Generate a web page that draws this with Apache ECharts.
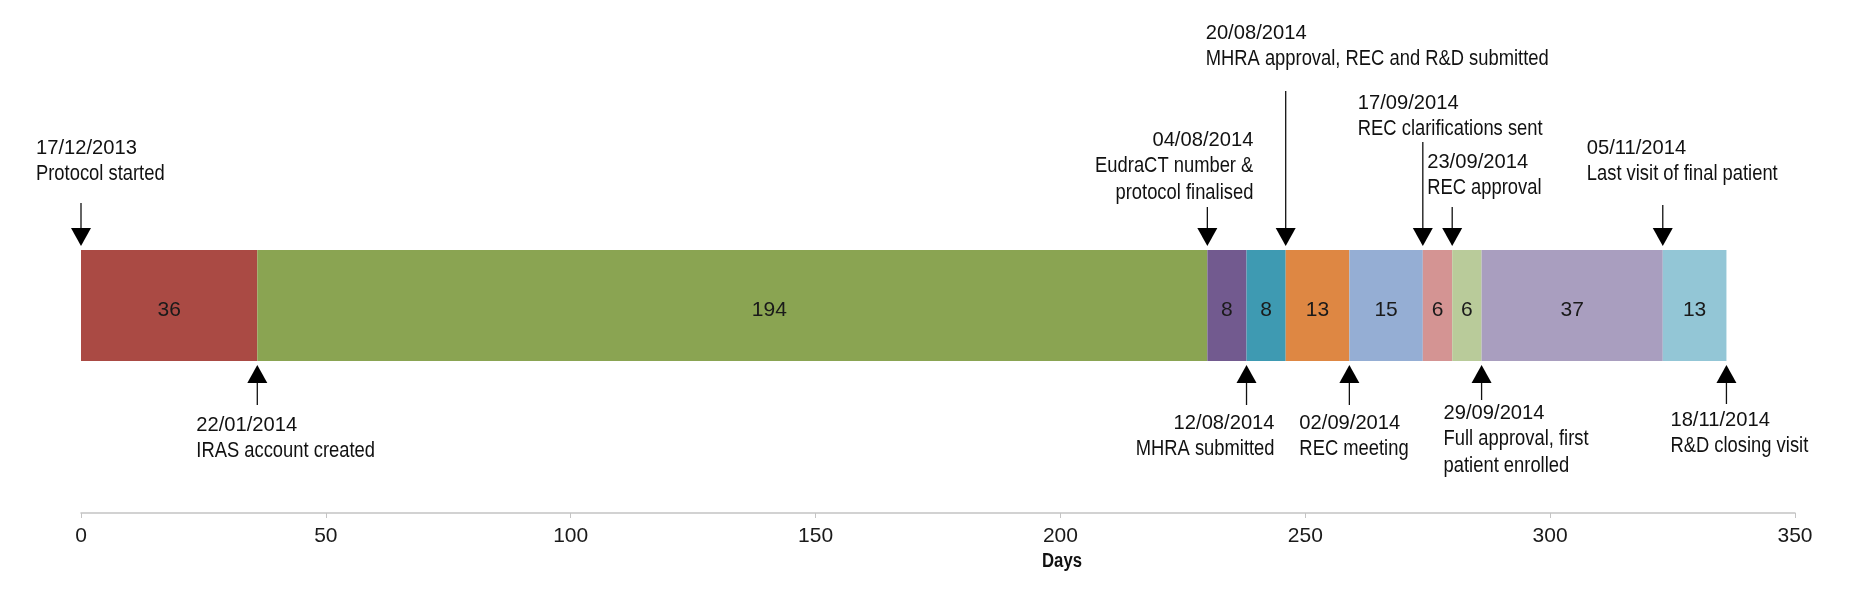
<!DOCTYPE html>
<html><head><meta charset="utf-8">
<script src="https://cdn.jsdelivr.net/npm/echarts@6/dist/echarts.min.js"></script>
<style>html,body{margin:0;padding:0;background:#fff}#chart{width:1858px;height:599px}</style>
</head><body><div id="chart"></div>
<script>
// ---------- data ----------
const category = ['Timeline'];
const durations = [36, 194, 8, 8, 13, 15, 6, 6, 37, 13];
const axisTicks = [0, 50, 100, 150, 200, 250, 300, 350];
const milestoneDates = ['17/12/2013','22/01/2014','04/08/2014','12/08/2014','20/08/2014','02/09/2014','17/09/2014','23/09/2014','29/09/2014','05/11/2014','18/11/2014'];
const milestoneTexts = ['Protocol started','IRAS account created','EudraCT number &\nprotocol finalised','MHRA submitted','MHRA approval, REC and R&D submitted','REC meeting','REC clarifications sent','REC approval','Full approval, first\npatient enrolled','Last visit of final patient','R&D closing visit'];
const milestoneSides = ['top','bottom','top','bottom','top','bottom','top','top','bottom','top','bottom'];
const axisName = 'Days';

// ---------- styles / layout ----------
const segmentColors = ['#AA4A44','#8AA452','#725A8F','#3E9AB2','#DE8743','#95AED4','#D49493','#B9CB9A','#A99EBF','#93C6D6'];
const segmentLabelOffsets = [[0,5],[37,5],[0,5],[0,5],[0,5],[0,5],[0,5],[0,5],[0,5],[0,5]];
const FONT = '"Liberation Sans","Arial",sans-serif';
const DATE_SCALE = 0.96;   // horizontal squeeze of date lines
const TEXT_SCALE = 0.835;  // horizontal squeeze of description lines
// dx: text anchor offset from arrow; y: centre of date line; lineEnd: far end of arrow shaft
const labelLayout = [
  {dx:-45, align:'left',  y:148, lineEnd:203},
  {dx:-61, align:'left',  y:425, lineEnd:405},
  {dx: 46, align:'right', y:140, lineEnd:207},
  {dx: 28, align:'right', y:423, lineEnd:405},
  {dx:-80, align:'left',  y:33,  lineEnd:91},
  {dx:-50, align:'left',  y:423, lineEnd:405},
  {dx:-65, align:'left',  y:103, lineEnd:142},
  {dx:-25, align:'left',  y:162, lineEnd:207},
  {dx:-38, align:'left',  y:413, lineEnd:400},
  {dx:-76, align:'left',  y:148, lineEnd:205},
  {dx:-56, align:'left',  y:420, lineEnd:404}
];

// milestone positions = boundaries of the stacked durations
const milestoneDays = [0];
durations.forEach(d => milestoneDays.push(milestoneDays[milestoneDays.length - 1] + d));

const chart = echarts.init(document.getElementById('chart'), null, {renderer: 'canvas'});

const barSeries = durations.map((v, i) => ({
  type: 'bar',
  stack: 'total',
  data: [v],
  barWidth: '100%',
  barCategoryGap: '0%',
  itemStyle: {color: segmentColors[i]},
  label: {show: true, position: 'inside', offset: segmentLabelOffsets[i], formatter: '{c}', fontSize: 21, fontFamily: FONT, color: '#1a1a1a'},
  silent: true
}));

const annotationSeries = {
  type: 'custom',
  clip: false,
  z: 10,
  silent: true,
  data: milestoneDays.map(d => [d, 0]),
  renderItem: function (params, api) {
    const i = params.dataIndex;
    const pt = api.coord([api.value(0), 0]);
    const x = pt[0], yc = pt[1];
    const half = api.size([0, 1])[1] / 2;
    const L = labelLayout[i];
    const top = milestoneSides[i] === 'top';
    const tipY = top ? yc - half - 4 : yc + half + 4;
    const headH = 18, headW = 20;
    const baseY = top ? tipY - headH : tipY + headH;
    return {
      type: 'group',
      children: [
        {type: 'line', shape: {x1: x, y1: L.lineEnd, x2: x, y2: baseY}, style: {stroke: '#111', lineWidth: 1.3}},
        {type: 'polygon', shape: {points: [[x - headW / 2, baseY], [x + headW / 2, baseY], [x, tipY]]}, style: {fill: '#000'}},
        {type: 'text', x: x + L.dx, y: L.y, scaleX: DATE_SCALE,
          style: {text: milestoneDates[i], x: 0, y: 0, align: L.align, verticalAlign: 'middle',
            font: '21px ' + FONT, fill: '#111'}},
        {type: 'text', x: x + L.dx, y: L.y + 26 - 13.5, scaleX: TEXT_SCALE,
          style: {text: milestoneTexts[i], x: 0, y: 0, align: L.align, verticalAlign: 'top',
            font: '22px ' + FONT, fill: '#111', lineHeight: 27}}
      ]
    };
  }
};

chart.setOption({
  animation: false,
  backgroundColor: '#fff',
  grid: {left: 81, right: 63, top: 250, height: 111, containLabel: false},
  xAxis: {
    type: 'value', min: axisTicks[0], max: axisTicks[axisTicks.length - 1], interval: axisTicks[1] - axisTicks[0],
    offset: 152,
    axisLine: {show: true, lineStyle: {color: '#C4C4C4', width: 1.5}},
    axisTick: {show: true, length: 5, lineStyle: {color: '#C4C4C4'}},
    axisLabel: {fontSize: 21, fontFamily: FONT, color: '#1a1a1a', margin: 13},
    splitLine: {show: false}
  },
  yAxis: {type: 'category', data: category, show: false},
  series: barSeries.concat([annotationSeries]),
  graphic: [{
    type: 'text', x: 1062, y: 561, scaleX: TEXT_SCALE,
    style: {text: axisName, x: 0, y: 0, align: 'center', verticalAlign: 'middle', font: 'bold 20px ' + FONT, fill: '#111'}
  }]
});
</script>
</body></html>
